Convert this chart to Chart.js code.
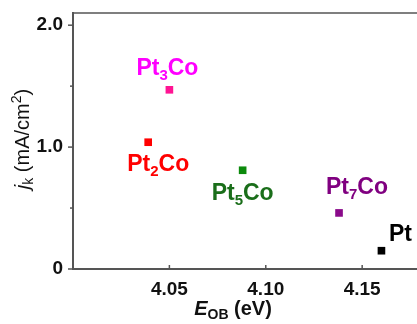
<!DOCTYPE html>
<html>
<head>
<meta charset="utf-8">
<script src="https://cdn.jsdelivr.net/npm/chart.js@4/dist/chart.umd.min.js"></script>
<style>
  html, body { margin: 0; padding: 0; background: #fff; overflow: hidden; width: 417px; height: 324px; }
  #wrap { position: relative; width: 440px; height: 324px; }
</style>
</head>
<body>
<div id="wrap"><canvas id="c" width="440" height="324"></canvas></div>
<script>
// ---- data ----
const names = ["Pt3Co", "Pt2Co", "Pt5Co", "Pt7Co", "Pt"];
const nameBase = ["Pt", "Pt", "Pt", "Pt", "Pt"];
const nameSub = ["3", "2", "5", "7", ""];
const nameTail = ["Co", "Co", "Co", "Co", ""];
const eob = [4.050, 4.039, 4.088, 4.138, 4.160];
const jk = [1.47, 1.04, 0.81, 0.46, 0.15];
const yTickLabels = { 0: "0", 1: "1.0", 2: "2.0" };
const xTickValues = [4.05, 4.10, 4.15];

// ---- styles ----
const markerColors = ["#ff1493", "#ff0000", "#0c8a0c", "#8a0a8a", "#000000"];
const labelColors = ["#ff00ff", "#ff0000", "#1a6e1a", "#800080", "#000000"];
const labelOffsets = [[-2, -15], [10, 29], [0, 30], [18, -19], [19, -10]];
const axisColor = "#555555";
const FONT = "'Liberation Sans', Arial, sans-serif";

const datasets = names.map((n, i) => ({
  label: n,
  data: [{ x: eob[i], y: jk[i] }],
  pointStyle: 'rect',
  pointRadius: 5.4,
  pointHoverRadius: 5.4,
  backgroundColor: markerColors[i],
  borderColor: markerColors[i],
  borderWidth: 0
}));

function drawRich(ctx, parts, x, y, align) {
  let total = 0;
  const widths = parts.map(p => {
    ctx.font = `${p.italic ? 'italic ' : ''}${p.weight || 'bold'} ${p.size}px ${FONT}`;
    const w = ctx.measureText(p.t).width;
    total += w;
    return w;
  });
  let cx = align === 'center' ? x - total / 2 : x;
  parts.forEach((p, i) => {
    ctx.font = `${p.italic ? 'italic ' : ''}${p.weight || 'bold'} ${p.size}px ${FONT}`;
    ctx.fillText(p.t, cx, y + (p.sub ? p.sub : 0));
    cx += widths[i];
  });
}

const decor = {
  id: 'decor',
  afterDraw(chart) {
    const { ctx, chartArea: a, scales: { x, y } } = chart;
    ctx.save();
    ctx.strokeStyle = axisColor;
    ctx.lineWidth = 2;
    ctx.beginPath();
    ctx.moveTo(a.left, a.top - 1);
    ctx.lineTo(a.left, a.bottom);
    ctx.lineTo(a.right, a.bottom);
    ctx.stroke();
    ctx.lineWidth = 1.5;
    ctx.beginPath();
    ctx.moveTo(a.left, a.top);
    ctx.lineTo(a.right, a.top);
    ctx.stroke();
    ctx.lineWidth = 1.5;
    [0, 0.5, 1, 1.5, 2].forEach(v => {
      const py = y.getPixelForValue(v);
      const len = Number.isInteger(v) ? 5 : 3;
      ctx.beginPath();
      ctx.moveTo(a.left - len, py);
      ctx.lineTo(a.left, py);
      ctx.stroke();
    });
    xTickValues.forEach(v => {
      const px = x.getPixelForValue(v);
      ctx.beginPath();
      ctx.moveTo(px, a.bottom);
      ctx.lineTo(px, a.bottom - 4);
      ctx.stroke();
    });
    ctx.textBaseline = 'alphabetic';
    names.forEach((n, i) => {
      const px = x.getPixelForValue(eob[i]) + labelOffsets[i][0];
      const py = y.getPixelForValue(jk[i]) + labelOffsets[i][1];
      ctx.fillStyle = labelColors[i];
      const parts = [{ t: nameBase[i], size: 23 }];
      if (nameSub[i]) parts.push({ t: nameSub[i], size: 15, sub: 5 });
      if (nameTail[i]) parts.push({ t: nameTail[i], size: 23 });
      drawRich(ctx, parts, px, py, 'center');
    });
    ctx.fillStyle = "#111";
    drawRich(ctx, [
      { t: "E", size: 20, italic: true },
      { t: "OB", size: 14, sub: 4 },
      { t: " (eV)", size: 20 }
    ], 233, 315, 'center');
    ctx.translate(29, 139);
    ctx.rotate(-Math.PI / 2);
    drawRich(ctx, [
      { t: "j", size: 20, italic: true, weight: 'normal' },
      { t: "k", size: 14, sub: 4, weight: 'normal' },
      { t: " (mA/cm", size: 20, weight: 'normal' },
      { t: "2", size: 14, sub: -8, weight: 'normal' },
      { t: ")", size: 20, weight: 'normal' }
    ], 0, 0, 'center');
    ctx.restore();
  }
};

new Chart(document.getElementById('c'), {
  type: 'scatter',
  data: { datasets },
  options: {
    responsive: false,
    animation: false,
    layout: { padding: { top: 13, right: 20, left: 0, bottom: 0 } },
    plugins: { legend: { display: false }, tooltip: { enabled: false } },
    scales: {
      x: {
        type: 'linear', min: 4.0, max: 4.18,
        afterFit(s) { s.height = 55; s.paddingLeft = 0; s.paddingRight = 0; },
        afterBuildTicks(s) { s.ticks = xTickValues.map(v => ({ value: v })); },
        grid: { display: false, drawTicks: false },
        border: { display: false },
        ticks: {
          color: "#111", padding: 9,
          font: { family: FONT, size: 19, weight: 'bold' },
          callback: v => v.toFixed(2)
        }
      },
      y: {
        type: 'linear', min: 0, max: 2.1,
        afterFit(s) { s.width = 73; s.paddingTop = 0; s.paddingBottom = 0; },
        afterBuildTicks(s) { s.ticks = [0, 1, 2].map(v => ({ value: v })); },
        grid: { display: false, drawTicks: false },
        border: { display: false },
        ticks: {
          color: "#111", padding: 10,
          font: { family: FONT, size: 19, weight: 'bold' },
          callback: v => yTickLabels[v]
        }
      }
    }
  },
  plugins: [decor]
});
</script>
</body>
</html>
